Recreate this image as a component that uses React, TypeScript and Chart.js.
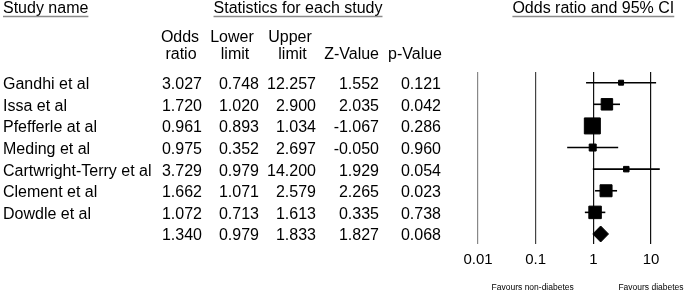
import React, { useEffect, useRef } from 'react';
import { Chart, registerables } from 'chart.js';

Chart.register(...registerables);

// ---------- data ----------
const studies = [
  'Gandhi et al',
  'Issa et al',
  'Pfefferle at al',
  'Meding et al',
  'Cartwright-Terry et al',
  'Clement et al',
  'Dowdle et al',
];
const oddsRatio = [3.027, 1.72, 0.961, 0.975, 3.729, 1.662, 1.072];
const lowerLimit = [0.748, 1.02, 0.893, 0.352, 0.979, 1.071, 0.713];
const upperLimit = [12.257, 2.9, 1.034, 2.697, 14.2, 2.579, 1.613];
const zValue = [1.552, 2.035, -1.067, -0.05, 1.929, 2.265, 0.335];
const pValue = [0.121, 0.042, 0.286, 0.96, 0.054, 0.023, 0.738];
// relative weights (%)
const relWeight = [3.8, 16.6, 30.8, 6.8, 4.5, 18.0, 19.4];

const summaryOR = 1.34;
const summaryLower = 0.979;
const summaryUpper = 1.833;
const summaryZ = 1.827;
const summaryP = 0.068;

const xTicks = [0.01, 0.1, 1, 10];
const xTickLabels = ['0.01', '0.1', '1', '10'];

const FONT = '"Liberation Sans", Arial, Helvetica, sans-serif';

const tablePlugin = {
  id: 'forestTable',
  afterDraw(chart: any) {
    const { ctx } = chart;
    const ys = chart.scales.y;
    const xs = chart.scales.x;
    ctx.save();
    ctx.fillStyle = '#000';
    ctx.textBaseline = 'alphabetic';
    ctx.font = `16px ${FONT}`;

    const underline = (text: string, x: number, align: 'left' | 'center', baseline: number) => {
      ctx.textAlign = align;
      ctx.fillText(text, x, baseline);
      const w = ctx.measureText(text).width;
      const x0 = align === 'left' ? x : x - w / 2;
      ctx.save();
      ctx.strokeStyle = '#8a8a8a';
      ctx.lineWidth = 1.5;
      ctx.beginPath();
      ctx.moveTo(x0, baseline + 3.5);
      ctx.lineTo(x0 + w, baseline + 3.5);
      ctx.stroke();
      ctx.restore();
    };

    underline('Study name', 3, 'left', 13);
    underline('Statistics for each study', 298, 'center', 13);
    underline('Odds ratio and 95% CI', xs.getPixelForValue(1), 'center', 13);

    ctx.textAlign = 'center';
    ctx.fillText('Odds', 180, 42);
    ctx.fillText('ratio', 181, 59);
    ctx.fillText('Lower', 232, 42);
    ctx.fillText('limit', 235, 59);
    ctx.fillText('Upper', 290, 42);
    ctx.fillText('limit', 292.5, 59);
    ctx.textAlign = 'right';
    ctx.fillText('Z-Value', 379, 59);
    ctx.fillText('p-Value', 442, 59);

    const colRight = [202, 259, 316, 379, 441];
    const rows: number[][] = studies.map((_, i) => [
      oddsRatio[i], lowerLimit[i], upperLimit[i], zValue[i], pValue[i],
    ]);
    rows.push([summaryOR, summaryLower, summaryUpper, summaryZ, summaryP]);

    rows.forEach((vals, i) => {
      const yb = ys.getPixelForValue(i) + 6.5;
      if (i < studies.length) {
        ctx.textAlign = 'left';
        ctx.fillText(studies[i], 3, yb);
      }
      ctx.textAlign = 'right';
      vals.forEach((v, j) => {
        ctx.fillText(v.toFixed(3), colRight[j], yb);
      });
    });

    ctx.font = `8.5px ${FONT}`;
    ctx.textAlign = 'center';
    ctx.fillText('Favours non-diabetes', xs.getPixelForValue(0.1) - 3, 290);
    ctx.fillText('Favours diabetes', xs.getPixelForValue(10), 290);
    ctx.restore();
  },
};

export default function App() {
  const ref = useRef<HTMLCanvasElement>(null);

  useEffect(() => {
    document.body.style.margin = '0';
    const canvas = ref.current!;
    const n = studies.length;

    const ciSets = studies.map((s, i) => ({
      label: s + ' CI',
      data: [
        { x: lowerLimit[i], y: i },
        { x: upperLimit[i], y: i },
      ],
      showLine: true,
      borderColor: '#000',
      borderWidth: 1.6,
      pointRadius: 0,
      clip: false as any,
      order: 2,
    }));

    const squareSet = {
      label: 'Odds ratio',
      data: studies.map((_, i) => ({ x: oddsRatio[i], y: i })),
      pointStyle: 'rect',
      pointRadius: relWeight.map((w) => (3.063 * Math.sqrt(w) - 1) / Math.SQRT2),
      backgroundColor: '#000',
      borderColor: '#000',
      borderWidth: 1,
      clip: false as any,
      order: 1,
    };

    const h = 0.37;
    const diamondSet = {
      label: 'Summary',
      data: [
        { x: summaryLower, y: n },
        { x: summaryOR, y: n - h },
        { x: summaryUpper, y: n },
        { x: summaryOR, y: n + h },
        { x: summaryLower, y: n },
      ],
      showLine: true,
      fill: 'shape',
      backgroundColor: '#000',
      borderColor: '#000',
      borderWidth: 1,
      pointRadius: 0,
      tension: 0,
      clip: false as any,
      order: 1,
    };

    const chart = new Chart(canvas, {
      type: 'scatter',
      data: { datasets: [...ciSets, squareSet, diamondSet] as any },
      options: {
        responsive: false,
        animation: false,
        events: [],
        layout: { padding: { left: 478, right: 34, top: 72, bottom: 0 } },
        plugins: { legend: { display: false }, tooltip: { enabled: false } },
        scales: {
          x: {
            type: 'logarithmic',
            min: 0.01,
            max: 10,
            afterBuildTicks: (scale: any) => {
              scale.ticks = xTicks.map((v) => ({ value: v }));
            },
            afterFit: (scale: any) => {
              scale.height = 48;
            },
            ticks: {
              autoSkip: false,
              maxRotation: 0,
              padding: 7,
              color: '#000',
              font: { family: FONT, size: 15 },
              callback: (_v: any, i: number) => xTickLabels[i],
            },
            grid: {
              drawTicks: false,
              lineWidth: 1.2,
              color: (c: any) => (c.index === 0 ? '#888' : c.index === 1 ? '#444' : '#111'),
            },
            border: { display: false },
          },
          y: {
            type: 'linear',
            display: false,
            reverse: true,
            min: -0.495,
            max: 7.463,
          },
        },
      },
      plugins: [tablePlugin],
    });
    return () => chart.destroy();
  }, []);

  return (
    <div style={{ width: 685, height: 292, background: '#fff' }}>
      <canvas ref={ref} width={685} height={292} style={{ display: 'block' }} />
    </div>
  );
}
